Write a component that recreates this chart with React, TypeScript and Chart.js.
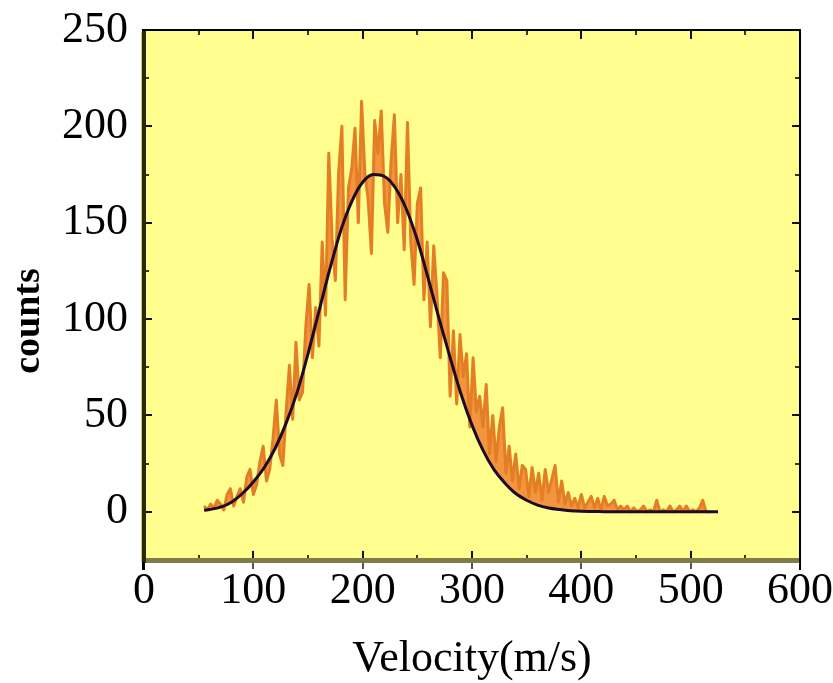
import React, { useEffect, useRef } from 'react';
import { Chart, registerables } from 'chart.js';

Chart.register(...registerables);

const xTickValues = [0, 100, 200, 300, 400, 500, 600];
const yTickValues = [0, 50, 100, 150, 200, 250];
const xTitle = 'Velocity(m/s)';
const yTitle = 'counts';

// measured histogram (velocity in m/s, counts)
const measuredVelocity = [
  55, 58, 61, 64, 67, 70, 73, 76, 79, 82, 85, 88, 91, 94, 97, 100, 103, 106, 109, 112,
  115, 118, 121, 124, 127, 130, 133, 136, 139, 142, 145, 148, 151, 154, 157, 160, 163, 166, 169, 172,
  175, 178, 181, 184, 187, 190, 193, 196, 199, 202, 205, 208, 211, 214, 217, 220, 223, 226, 229, 232,
  235, 238, 241, 244, 247, 250, 253, 256, 259, 262, 265, 268, 271, 274, 277, 280, 283, 286, 289, 292,
  295, 298, 301, 304, 307, 310, 313, 316, 319, 322, 325, 328, 331, 334, 337, 340, 343, 346, 349, 352,
  355, 358, 361, 364, 367, 370, 373, 376, 379, 382, 385, 388, 391, 394, 397, 400, 403, 406, 409, 412,
  415, 418, 421, 424, 427, 430, 433, 436, 439, 442, 445, 448, 451, 454, 457, 460, 463, 466, 469, 472,
  475, 478, 481, 484, 487, 490, 493, 496, 499, 502, 505, 508, 511, 514, 517,
];
const measuredCounts = [
  3, 1, 4, 2, 6, 4, 1, 9, 12, 3, 8, 12, 5, 18, 22, 9, 14, 26, 34, 16,
  22, 38, 58, 30, 24, 52, 76, 48, 88, 58, 62, 96, 118, 80, 106, 86, 140, 102, 186, 142,
  120, 176, 200, 110, 168, 178, 199, 150, 213, 176, 162, 134, 203, 186, 208, 160, 145, 182, 206, 150,
  175, 136, 202, 140, 118, 160, 168, 110, 140, 96, 138, 112, 80, 124, 120, 60, 94, 56, 92, 70,
  82, 44, 80, 52, 60, 44, 66, 30, 50, 26, 44, 54, 20, 34, 16, 30, 12, 24, 22, 8,
  23, 10, 20, 6, 22, 10, 17, 24, 5, 16, 4, 10, 3, 7, 2, 9, 2, 5, 8, 2,
  7, 1, 8, 3, 4, 6, 1, 3, 1, 3, 0, 2, 0, 1, 3, 0, 1, 0, 6, 0,
  1, 0, 3, 0, 1, 3, 0, 3, 0, 1, 0, 2, 6, 0, 0,
];

// fitted distribution
const fitVelocity = [
  55, 60, 70, 80, 90, 100, 110, 120, 130, 140, 150, 160, 170, 180, 190, 200, 210, 220, 230, 240,
  250, 260, 270, 280, 290, 300, 310, 320, 330, 340, 350, 360, 370, 380, 390, 400, 420, 450, 480, 525,
];
const fitCounts = [
  0.8, 1.2, 2.4, 5, 9.5, 15.5, 23, 33, 46, 62, 82, 104, 126, 146, 161, 171, 175, 174, 168, 157,
  141, 121, 100, 80, 61, 45, 32, 22, 15, 9.5, 6, 3.5, 2, 1.2, 0.6, 0.3, 0.1, 0, 0, 0,
];

const FONT = "'Liberation Serif', 'Times New Roman', serif";

const framePlugin = {
  id: 'frame',
  beforeDraw(chart: any) {
    const { ctx, chartArea: a } = chart;
    ctx.save();
    ctx.fillStyle = '#FFFE8E';
    ctx.fillRect(a.left, a.top, a.right - a.left, a.bottom - a.top);
    ctx.restore();
  },
  afterDraw(chart: any) {
    const { ctx, chartArea: a, scales } = chart;
    const xs = scales.x;
    const ys = scales.y;
    ctx.save();
    ctx.lineCap = 'butt';
    for (let v = xs.min; v <= xs.max; v += 50) {
      const px = Math.round(xs.getPixelForValue(v));
      const major = v % 100 === 0;
      const len = major ? 9 : 5;
      ctx.strokeStyle = major ? '#111100' : '#3a3810';
      ctx.lineWidth = 2;
      ctx.beginPath();
      ctx.moveTo(px, a.top);
      ctx.lineTo(px, a.top + len);
      ctx.moveTo(px, a.bottom);
      ctx.lineTo(px, a.bottom - len);
      ctx.stroke();
      if (major) {
        ctx.strokeStyle = '#555540';
        ctx.beginPath();
        ctx.moveTo(px, a.bottom);
        ctx.lineTo(px, a.bottom + 9);
        ctx.stroke();
      }
    }
    for (let v = 0; v <= ys.max; v += 25) {
      const py = Math.round(ys.getPixelForValue(v));
      const major = v % 50 === 0;
      const len = major ? 8 : 5;
      ctx.strokeStyle = major ? '#111100' : '#3a3810';
      ctx.lineWidth = 2;
      ctx.beginPath();
      ctx.moveTo(a.left, py);
      ctx.lineTo(a.left + len, py);
      ctx.moveTo(a.right, py);
      ctx.lineTo(a.right - len, py);
      ctx.stroke();
    }
    ctx.fillStyle = '#7f7c4a';
    ctx.fillRect(a.left - 2, a.bottom - 2, a.right - a.left + 3, 5);
    ctx.fillStyle = '#2c2a06';
    ctx.fillRect(a.left - 2, a.top - 1, 4, a.bottom - a.top + 4);
    ctx.fillStyle = '#c8c69a';
    ctx.fillRect(a.left - 3, a.top + 2, 1, a.bottom - a.top);
    ctx.fillStyle = '#000000';
    ctx.fillRect(a.left - 2, a.top - 1, a.right - a.left + 3, 2);
    ctx.fillRect(a.right - 1, a.top - 1, 2, a.bottom - a.top + 11);
    ctx.fillRect(a.left - 2, a.bottom + 2, 3, 8);
    ctx.fillStyle = '#000';
    ctx.font = `bold 38px ${FONT}`;
    ctx.textAlign = 'center';
    ctx.textBaseline = 'middle';
    ctx.translate(29, 321);
    ctx.rotate(-Math.PI / 2);
    ctx.fillText(yTitle, 0, 0);
    ctx.restore();
  },
};

export default function App() {
  const ref = useRef<HTMLCanvasElement | null>(null);

  useEffect(() => {
    if (!ref.current) return;
    const chart = new Chart(ref.current, {
      type: 'line',
      data: {
        datasets: [
          {
            label: 'fit',
            data: fitVelocity.map((v, i) => ({ x: v, y: fitCounts[i] })),
            borderColor: '#1c0a2c',
            borderWidth: 3,
            pointRadius: 0,
            cubicInterpolationMode: 'monotone',
            fill: false,
            order: 0,
          },
          {
            label: 'measured',
            data: measuredVelocity.map((v, i) => ({ x: v, y: measuredCounts[i] })),
            borderColor: '#E47E24',
            backgroundColor: '#F3953F',
            fill: 0,
            borderWidth: 3,
            pointRadius: 0,
            tension: 0,
            borderJoinStyle: 'round',
            order: 1,
          },
        ],
      },
      options: {
        responsive: false,
        animation: false,
        events: [],
        layout: { padding: { top: 30, right: 33, left: 0, bottom: 0 } },
        plugins: { legend: { display: false }, tooltip: { enabled: false }, filler: { propagate: false } },
        scales: {
          x: {
            type: 'linear',
            min: 0,
            max: 600,
            afterBuildTicks: (s: any) => {
              s.ticks = xTickValues.map((v) => ({ value: v }));
            },
            afterFit: (s: any) => {
              s.height = 123;
              s.paddingLeft = 0;
              s.paddingRight = 0;
            },
            grid: { display: false, drawTicks: false },
            border: { display: false },
            ticks: {
              color: '#000',
              font: { family: FONT, size: 44 },
              padding: 5,
              maxRotation: 0,
              autoSkip: false,
            },
            title: {
              display: true,
              text: xTitle,
              color: '#000',
              font: { family: FONT, size: 44 },
              padding: { top: 0, bottom: -3 },
            },
          },
          y: {
            type: 'linear',
            min: -25,
            max: 250,
            afterBuildTicks: (s: any) => {
              s.ticks = yTickValues.map((v) => ({ value: v }));
            },
            afterFit: (s: any) => {
              s.width = 144;
              s.paddingTop = 0;
              s.paddingBottom = 0;
            },
            grid: { display: false, drawTicks: false },
            border: { display: false },
            ticks: {
              color: '#000',
              font: { family: FONT, size: 44 },
              padding: 16,
              autoSkip: false,
            },
          },
        },
      },
      plugins: [framePlugin],
    } as any);
    return () => chart.destroy();
  }, []);

  return (
    <div style={{ position: 'absolute', left: 0, top: 0, width: 833, height: 683, background: '#fff' }}>
      <canvas ref={ref} width={833} height={683} style={{ display: 'block' }} />
    </div>
  );
}
